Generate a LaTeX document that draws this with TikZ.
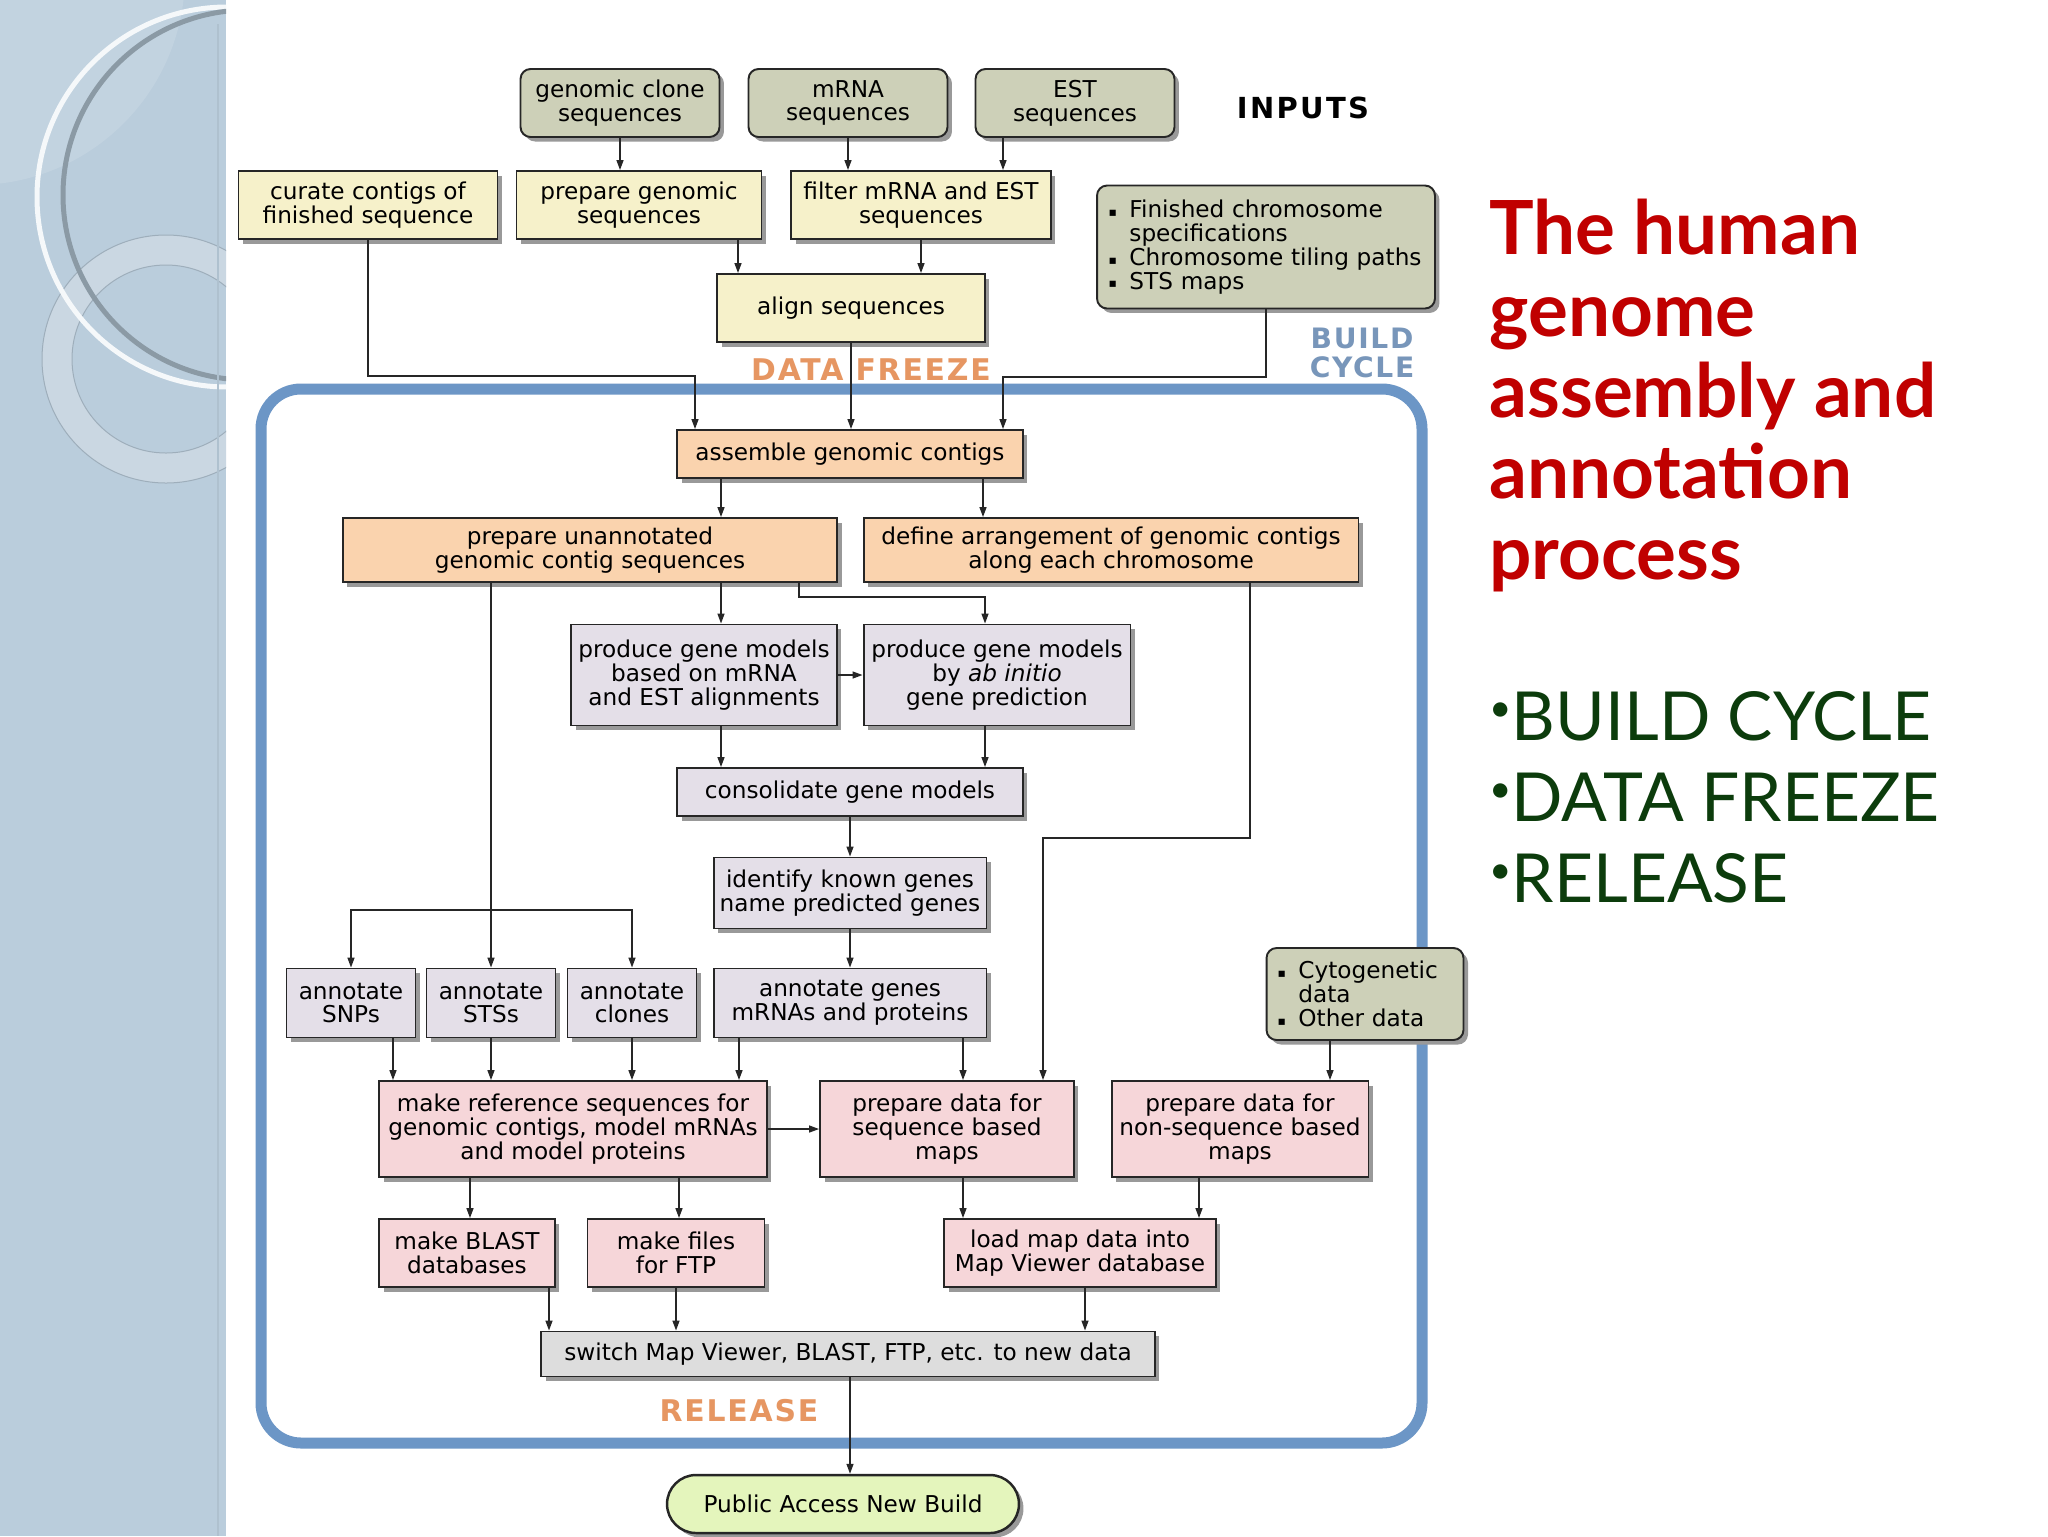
\documentclass[tikz,border=0pt]{standalone}
\usepackage{fontspec}
\setmainfont{DejaVu Sans}
\newfontfamily\titlefont{Lato}
\usepackage{tikz}
\usetikzlibrary{arrows.meta,calc,positioning,shadows}

\definecolor{panelblue}{RGB}{186,205,220}
\definecolor{ringblue}{RGB}{202,215,226}
\definecolor{inputfill}{RGB}{205,208,184}
\definecolor{prepfill}{RGB}{246,241,202}
\definecolor{peachfill}{RGB}{250,211,174}
\definecolor{lavfill}{RGB}{228,223,232}
\definecolor{pinkfill}{RGB}{246,214,217}
\definecolor{grayfill}{RGB}{221,221,221}
\definecolor{pubfill}{RGB}{228,245,188}
\definecolor{frameblue}{RGB}{108,150,198}
\definecolor{phaseorange}{RGB}{230,150,98}
\definecolor{cycleblue}{RGB}{120,150,186}
\definecolor{titlered}{RGB}{192,0,0}
\definecolor{listgreen}{RGB}{12,60,12}

\newcommand{\bul}{\makebox[0.9em][l]{\scriptsize\raisebox{0.2ex}{▪}}}
\newcommand{\listdot}{\raisebox{0.28em}{\fontsize{22}{22}\selectfont\textbullet}}

\begin{document}
\begin{tikzpicture}[x=0.02cm,y=-0.02cm,
  box/.style={draw=black!85,line width=1.1pt,align=center,inner sep=0pt,
    font=\fontsize{13.2}{13.6}\selectfont,
    drop shadow={shadow xshift=0.09cm,shadow yshift=-0.09cm,fill=black!40,opacity=1}},
  inbox/.style={box,fill=inputfill,rounded corners=0.2cm,minimum width=3.98cm,minimum height=1.36cm},
  infobox/.style={box,fill=inputfill,rounded corners=0.2cm,align=left},
  prep/.style={box,fill=prepfill},
  peach/.style={box,fill=peachfill},
  lav/.style={box,fill=lavfill},
  pink/.style={box,fill=pinkfill},
  flow/.style={-{Triangle[length=0.2cm,width=0.14cm]},line width=0.8pt,black!85},
  phase/.style={font=\fontsize{17}{18}\selectfont\bfseries\addfontfeatures{LetterSpace=6},text=phaseorange}]
  \useasboundingbox (0,0) rectangle (2048,1536);
  \fill[white] (0,0) rectangle (2048,1536);

  % left panel
  \fill[panelblue] (0,0) rectangle (226,1536);
  \begin{scope}
    \clip (0,0) rectangle (226,1536);
    \fill[white,opacity=0.12] (-25,-25) circle (210);
    \draw[ringblue,line width=0.6cm] (166,359) circle (109);
    \draw[black!15!panelblue,line width=0.02cm] (166,359) circle (94);
    \draw[black!15!panelblue,line width=0.02cm] (166,359) circle (124);
    \draw[white!85!panelblue,line width=0.1cm] (227,197) circle (190);
    \draw[black!25!panelblue,line width=0.1cm] (248,195) circle (185);
  \end{scope}
  \draw[black!6!panelblue,line width=0.03cm] (218,24) -- (218,1536);

  % build cycle frame
  \draw[frameblue,line width=0.22cm,rounded corners=0.8cm] (261,389) rectangle (1422,1443);

  % inputs
  \node[inbox] (gclone) at (620,103) {genomic clone\\sequences};
  \node[inbox] (mrna) at (848,103) {mRNA\\sequences};
  \node[inbox] (est) at (1075,103) {EST\\sequences};
  \node[font=\fontsize{16.5}{18}\selectfont\bfseries\addfontfeatures{LetterSpace=8}] (inputs) at (1303,108) {INPUTS};

  \node[prep,minimum width=5.18cm,minimum height=1.36cm] (curate) at (368,205) {curate contigs of\\finished sequence};
  \node[prep,minimum width=4.9cm,minimum height=1.36cm] (prepg) at (639,205) {prepare genomic\\sequences};
  \node[prep,minimum width=5.2cm,minimum height=1.36cm] (filter) at (921,205) {filter mRNA and EST\\sequences};
  \node[prep,minimum width=5.36cm,minimum height=1.36cm] (align) at (851,308) {align sequences};
  \node[infobox,minimum width=6.76cm,minimum height=2.46cm,text width=6.3cm] (chrom) at (1266,247)
    {\bul Finished chromosome\\\hspace*{0.9em}specifications\\\bul Chromosome tiling paths\\\bul STS maps};

  \node[phase] (freeze) at (871,370) {DATA FREEZE};
  \node[phase,text=cycleblue,align=center,font=\fontsize{16}{17}\selectfont\bfseries\addfontfeatures{LetterSpace=6}] (cycle) at (1362,353) {BUILD\\CYCLE};

  % assembly
  \node[peach,minimum width=6.92cm,minimum height=0.96cm] (assemble) at (850,454) {assemble genomic contigs};
  \node[peach,minimum width=9.9cm,minimum height=1.28cm] (prepu) at (590,550) {prepare unannotated\\genomic contig sequences};
  \node[peach,minimum width=9.9cm,minimum height=1.28cm] (define) at (1111,550) {define arrangement of genomic contigs\\along each chromosome};

  % gene models
  \node[lav,minimum width=5.32cm,minimum height=2.02cm] (gmmrna) at (704,675) {produce gene models\\based on mRNA\\and EST alignments};
  \node[lav,minimum width=5.34cm,minimum height=2.02cm] (abinitio) at (997,675) {produce gene models\\by \textit{ab initio}\\gene prediction};
  \node[lav,minimum width=6.92cm,minimum height=0.96cm] (consol) at (850,792) {consolidate gene models};
  \node[lav,minimum width=5.46cm,minimum height=1.42cm] (identify) at (850,893) {identify known genes\\name predicted genes};
  \node[lav,minimum width=5.46cm,minimum height=1.38cm] (annotg) at (850,1003) {annotate genes\\mRNAs and proteins};
  \node[lav,minimum width=2.58cm,minimum height=1.38cm] (snps) at (351,1003) {annotate\\SNPs};
  \node[lav,minimum width=2.58cm,minimum height=1.38cm] (stss) at (491,1003) {annotate\\STSs};
  \node[lav,minimum width=2.58cm,minimum height=1.38cm] (clones) at (632,1003) {annotate\\clones};
  \node[infobox,minimum width=3.94cm,minimum height=1.84cm,text width=3.5cm] (cyto) at (1365,994)
    {\bul Cytogenetic\\\hspace*{0.9em}data\\\bul Other data};

  % release products
  \node[pink,minimum width=7.76cm,minimum height=1.92cm] (makeref) at (573,1129) {make reference sequences for\\genomic contigs, model mRNAs\\and model proteins};
  \node[pink,minimum width=5.08cm,minimum height=1.92cm] (seqmaps) at (947,1129) {prepare data for\\sequence based\\maps};
  \node[pink,minimum width=5.14cm,minimum height=1.92cm] (nonseq) at (1240,1129) {prepare data for\\non-sequence based\\maps};
  \node[pink,minimum width=3.52cm,minimum height=1.36cm] (blast) at (467,1253) {make BLAST\\databases};
  \node[pink,minimum width=3.54cm,minimum height=1.36cm] (ftp) at (676,1253) {make files\\for FTP};
  \node[pink,minimum width=5.44cm,minimum height=1.36cm] (mapload) at (1080,1253) {load map data into\\Map Viewer database};
  \node[box,fill=grayfill,minimum width=12.28cm,minimum height=0.9cm] (golive) at (848,1354) {switch Map Viewer, BLAST, FTP, etc. to new data};
  \node[phase] (release) at (739,1411) {RELEASE};
  \node[box,fill=pubfill,line width=1.4pt,rounded corners=0.58cm,minimum width=7.04cm,minimum height=1.16cm] (public) at (843,1504) {Public Access New Build};

  % connectors
  \draw[flow] (gclone) -- (gclone |- prepg.north);
  \draw[flow] (mrna) -- (mrna |- filter.north);
  \draw[flow] (1003,0 |- est.south) -- (1003,0 |- filter.north);
  \draw[flow] (738,0 |- prepg.south) -- (738,0 |- align.north);
  \draw[flow] (filter) -- (filter |- align.north);
  \draw[flow] (curate) |- (695,376) -- (695,0 |- assemble.north);
  \draw[flow] (align) -- (align |- assemble.north);
  \draw[flow] (chrom) |- (1003,377) -- (1003,0 |- assemble.north);
  \draw[flow] (721,0 |- assemble.south) -- (721,0 |- prepu.north);
  \draw[flow] (983,0 |- assemble.south) -- (983,0 |- define.north);
  \draw[flow] (stss.north |- prepu.south) -- (stss);
  \draw[flow] (stss.north |- 0,910) -| (snps);
  \draw[flow] (stss.north |- 0,910) -| (clones);
  \draw[flow] (721,0 |- prepu.south) -- (721,0 |- gmmrna.north);
  \draw[flow] (799,0 |- prepu.south) |- (985,597) -- (985,0 |- abinitio.north);
  \draw[flow] (gmmrna) -- (abinitio);
  \draw[flow] (721,0 |- gmmrna.south) -- (721,0 |- consol.north);
  \draw[flow] (985,0 |- abinitio.south) -- (985,0 |- consol.north);
  \draw[flow] (consol) -- (identify);
  \draw[flow] (identify) -- (annotg);
  \draw[flow] (1250,0 |- define.south) |- (1043,838) -- (1043,0 |- seqmaps.north);
  \draw[flow] (393,0 |- snps.south) -- (393,0 |- makeref.north);
  \draw[flow] (stss) -- (stss |- makeref.north);
  \draw[flow] (clones) -- (clones |- makeref.north);
  \draw[flow] (739,0 |- annotg.south) -- (739,0 |- makeref.north);
  \draw[flow] (963,0 |- annotg.south) -- (963,0 |- seqmaps.north);
  \draw[flow] (makeref) -- (seqmaps);
  \draw[flow] (1330,0 |- cyto.south) -- (1330,0 |- nonseq.north);
  \draw[flow] (470,0 |- makeref.south) -- (470,0 |- blast.north);
  \draw[flow] (679,0 |- makeref.south) -- (679,0 |- ftp.north);
  \draw[flow] (963,0 |- seqmaps.south) -- (963,0 |- mapload.north);
  \draw[flow] (1199,0 |- nonseq.south) -- (1199,0 |- mapload.north);
  \draw[flow] (549,0 |- blast.south) -- (549,0 |- golive.north);
  \draw[flow] (ftp) -- (ftp |- golive.north);
  \draw[flow] (1085,0 |- mapload.south) -- (1085,0 |- golive.north);
  \draw[flow] (850,0 |- golive.south) -- (850,0 |- public.north);

  % slide text
  \node[anchor=north west,inner sep=0pt,align=left,text=titlered,
    font=\titlefont\fontsize{42.5}{46.2}\selectfont\bfseries] (title) at (1489,199)
    {The human\\genome\\assembly and\\annotation\\process};
  \node[anchor=north west,inner sep=0pt,align=left,text=listgreen,
    font=\titlefont\fontsize{38.5}{46.2}\selectfont] (phases) at (1489,691)
    {\listdot BUILD CYCLE\\\listdot DATA FREEZE\\\listdot RELEASE};
\end{tikzpicture}
\end{document}
